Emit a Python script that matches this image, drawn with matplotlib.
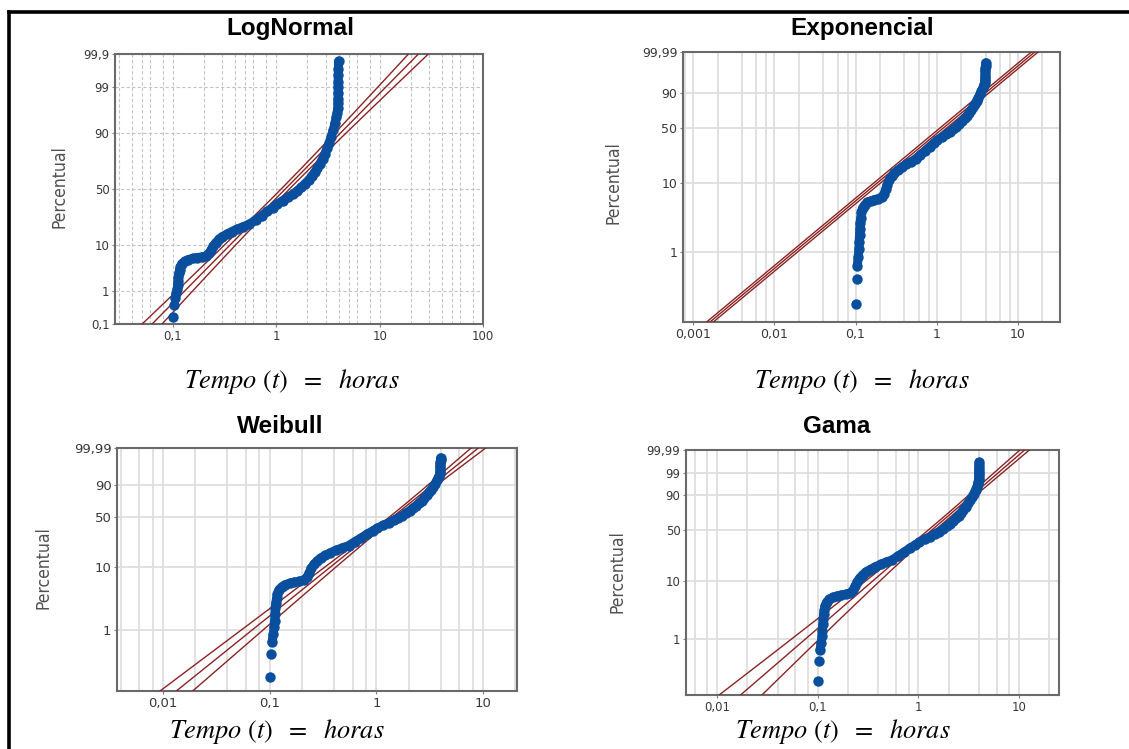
import math
import numpy as np
import matplotlib
matplotlib.use("Agg")
import matplotlib.pyplot as plt
from matplotlib.lines import Line2D

W, H = 1129, 749

# Observed failure times (hours) and their cumulative percentiles
tempo_h = [0.100, 0.103, 0.105, 0.108, 0.110, 0.111, 0.112, 0.113, 0.114, 0.116,
           0.118, 0.122, 0.130, 0.140, 0.155, 0.170, 0.190, 0.210, 0.225, 0.235,
           0.245, 0.260, 0.280, 0.300, 0.330, 0.370, 0.420, 0.480, 0.550, 0.630,
           0.720, 0.820, 0.920, 1.02, 1.15, 1.30, 1.45, 1.60, 1.75, 1.90,
           2.05, 2.20, 2.35, 2.50, 2.65, 2.80, 2.95, 3.10, 3.25, 3.40,
           3.55, 3.70, 3.80, 3.88, 3.93, 3.95, 3.96, 3.96, 3.97, 3.97,
           3.98, 3.99, 4.00]
percentual = [0.17, 0.40, 0.62, 0.85, 1.1, 1.4, 1.8, 2.2, 2.7, 3.2,
              3.8, 4.4, 4.9, 5.3, 5.6, 5.8, 6.0, 6.3, 7.0, 8.2,
              9.5, 11.0, 12.5, 13.8, 15.0, 16.5, 18.0, 19.5, 21.0, 24.0,
              27.0, 30.5, 33.5, 36.5, 39.5, 42.5, 45.5, 48.5, 51.5, 55.0,
              58.0, 61.5, 65.0, 68.5, 72.0, 75.5, 79.0, 82.5, 85.5, 88.5,
              91.0, 93.5, 95.0, 96.0, 96.8, 97.5, 98.0, 98.6, 99.0, 99.3,
              99.55, 99.7, 99.83]
N_AMOSTRA = 420      # sample size used for the confidence bands
N_ISOLADOS = 3       # lowest observations drawn as separate dots

# Fitted parameters of each distribution
LOGN_MU, LOGN_SIGMA = 0.20, 0.96
EXP_THETA = 1.75
WEIB_BETA, WEIB_ETA = 1.40, 1.85
GAMA_K, GAMA_THETA = 1.6, 1.05

titulos = ["LogNormal", "Exponencial", "Weibull", "Gama"]

y_ticks_ln = [0.1, 1, 10, 50, 90, 99, 99.9]
y_labels_ln = ["0,1", "1", "10", "50", "90", "99", "99,9"]
y_ticks_we = [1, 10, 50, 90, 99.99]
y_labels_we = ["1", "10", "50", "90", "99,99"]
y_ticks_ga = [1, 10, 50, 90, 99, 99.99]
y_labels_ga = ["1", "10", "50", "90", "99", "99,99"]

x_ticks_ln = [0.1, 1, 10, 100]
x_labels_ln = ["0,1", "1", "10", "100"]
x_ticks_ex = [0.001, 0.01, 0.1, 1, 10]
x_labels_ex = ["0,001", "0,01", "0,1", "1", "10"]
x_ticks_wg = [0.01, 0.1, 1, 10]
x_labels_wg = ["0,01", "0,1", "1", "10"]

AZUL = "#0a4f9e"
VERMELHO = "#8b2323"
Z95 = 1.96


# ---------- probability-scale helpers ----------
_erf = np.vectorize(math.erf, otypes=[float])


def norm_cdf(z):
    return 0.5 * (1.0 + _erf(np.asarray(z, float) / math.sqrt(2.0)))


def bisect(f, target, lo, hi, iters=64):
    target = np.asarray(target, float)
    a = np.full(target.shape, lo, float)
    b = np.full(target.shape, hi, float)
    for _ in range(iters):
        m = 0.5 * (a + b)
        below = f(m) < target
        a = np.where(below, m, a)
        b = np.where(below, b, m)
    return 0.5 * (a + b)


def norm_ppf(q):
    return bisect(norm_cdf, q, -12.0, 12.0)


def gamma_cdf(x, k, terms=110):
    x = np.clip(np.asarray(x, float), 1e-300, 40.0)
    term = np.ones_like(x)
    s = np.ones_like(x)
    for n in range(1, terms):
        term = term * x / (k + n)
        s = s + term
    return np.minimum(np.exp(k * np.log(x) - x - math.lgamma(k + 1.0)) * s, 1.0)


def gamma_lnppf(q, k):
    return bisect(lambda u: gamma_cdf(np.exp(u), k), q, -40.0, math.log(40.0))


def _q(p):
    return np.clip(np.asarray(p, float) / 100.0, 1e-12, 1 - 1e-12)


escala_normal = (lambda p: norm_ppf(_q(p)),
                 lambda z: 100.0 * norm_cdf(z))
escala_weibull = (lambda p: np.log(-np.log1p(-_q(p))),
                  lambda w: 100.0 * (-np.expm1(-np.exp(np.asarray(w, float)))))
escala_gama = (lambda p: gamma_lnppf(_q(p), GAMA_K),
               lambda y: 100.0 * gamma_cdf(np.exp(np.asarray(y, float)), GAMA_K))


# ---------- fitted lines with 95% bounds (ln t as a function of the scale variable) ----------
def faixa_lognormal(z):
    c = LOGN_MU + z * LOGN_SIGMA
    sd = np.sqrt(LOGN_SIGMA ** 2 / N_AMOSTRA * (1 + z ** 2 / 2))
    return c, sd


def faixa_exponencial(w):
    c = math.log(EXP_THETA) + w
    sd = np.full_like(w, 1.0 / math.sqrt(N_AMOSTRA))
    return c, sd


def faixa_weibull(w):
    b = 1.0 / WEIB_BETA
    c = math.log(WEIB_ETA) + w * b
    var = b ** 2 / N_AMOSTRA * (1.1087 + 0.6079 * w ** 2 + 2 * 0.2570 * w)
    return c, np.sqrt(var)


def faixa_gama(y):
    q = escala_gama[1](y) / 100.0
    h = 1e-3
    dk = (gamma_lnppf(q, GAMA_K + h) - gamma_lnppf(q, GAMA_K - h)) / (2 * h)
    hh = 1e-4
    trig = (math.lgamma(GAMA_K + hh) - 2 * math.lgamma(GAMA_K) + math.lgamma(GAMA_K - hh)) / hh ** 2
    info = np.array([[trig, 1.0], [1.0, GAMA_K]]) * N_AMOSTRA
    cov = np.linalg.inv(info)
    var = dk ** 2 * cov[0, 0] + 2 * dk * cov[0, 1] + cov[1, 1]
    c = math.log(GAMA_THETA) + y
    return c, np.sqrt(var)


paineis = [
    dict(titulo=titulos[0], rect=(115, 54, 483, 324), escala=escala_normal, faixa=faixa_lognormal,
         xlim=(0.0275, 100), ylim=(0.1, 99.9), yt=y_ticks_ln, yl=y_labels_ln,
         xt=x_ticks_ln, xl=x_labels_ln, menores=[2, 3, 4, 5, 6, 8], dec=range(-2, 2),
         tracejado=True, tam=8.5, tit=(290, 28), xlab=(292, 381), ylab=(60, 187)),
    dict(titulo=titulos[1], rect=(683, 52, 1060, 322), escala=escala_weibull, faixa=faixa_exponencial,
         xlim=(0.00075, 33), ylim=(0.092, 99.99), yt=y_ticks_we, yl=y_labels_we,
         xt=x_ticks_ex, xl=x_labels_ex, menores=[2, 4, 6, 8], dec=range(-4, 2),
         tracejado=False, tam=9, tit=(862, 28), xlab=(862, 381), ylab=(613, 183)),
    dict(titulo=titulos[2], rect=(117, 448, 517, 691), escala=escala_weibull, faixa=faixa_weibull,
         xlim=(0.0037, 20.8), ylim=(0.1, 99.99), yt=y_ticks_we, yl=y_labels_we,
         xt=x_ticks_wg, xl=x_labels_wg, menores=[2, 4, 6, 8], dec=range(-3, 2),
         tracejado=False, tam=9.5, tit=(280, 426), xlab=(277, 732), ylab=(43, 568)),
    dict(titulo=titulos[3], rect=(686, 450, 1059, 695), escala=escala_gama, faixa=faixa_gama,
         xlim=(0.0049, 24.9), ylim=(0.095, 99.99), yt=y_ticks_ga, yl=y_labels_ga,
         xt=x_ticks_wg, xl=x_labels_wg, menores=[2, 4, 6, 8], dec=range(-3, 2),
         tracejado=False, tam=8.5, tit=(837, 426), xlab=(843, 732), ylab=(618, 572)),
]

plt.rcParams["mathtext.fontset"] = "stix"
fig = plt.figure(figsize=(W / 100, H / 100), dpi=100)
fig.patch.set_facecolor("white")


def fx(x):
    return x / W


def fy(y):
    return 1 - y / H


for pn in paineis:
    x0, y0, x1, y1 = pn["rect"]
    ax = fig.add_axes([fx(x0), fy(y1), (x1 - x0) / W, (y1 - y0) / H])
    fwd, inv = pn["escala"]
    ax.set_xscale("log")
    ax.set_yscale("function", functions=(fwd, inv))
    ax.set_xlim(*pn["xlim"])
    ax.set_ylim(*pn["ylim"])

    ax.set_xticks(pn["xt"])
    ax.set_xticklabels(pn["xl"])
    menores = [m * 10.0 ** d for d in pn["dec"] for m in pn["menores"]]
    menores = [v for v in menores if pn["xlim"][0] < v < pn["xlim"][1]]
    ax.set_xticks(menores, minor=True)
    ax.set_xticklabels([], minor=True)
    ax.set_yticks(pn["yt"])
    ax.set_yticklabels(pn["yl"])
    ax.set_yticks([], minor=True)

    if pn["tracejado"]:
        estilo = dict(color="#c4c4c4", linestyle=(0, (3, 2)), linewidth=0.8)
    else:
        estilo = dict(color="#dedede", linestyle="-", linewidth=1.3)
    ax.grid(True, which="both", axis="x", **estilo)
    ax.grid(True, which="major", axis="y", **estilo)
    ax.set_axisbelow(True)

    ax.tick_params(axis="both", which="major", length=2, width=0.8, color="#808080",
                   labelsize=pn["tam"], labelcolor="#383838", pad=2)
    ax.tick_params(axis="both", which="minor", length=0)
    for s in ax.spines.values():
        s.set_color("#6a6a6a")
        s.set_linewidth(1.5)

    # fitted distribution line and its confidence bounds
    lo_s, hi_s = fwd(np.array(pn["ylim"], float))
    s = np.linspace(lo_s - 0.3, hi_s + 0.3, 160)
    p_curva = inv(s)
    centro, sd = pn["faixa"](s)
    for desloc in (-Z95, 0.0, Z95):
        ax.plot(np.exp(centro + desloc * sd), p_curva, color=VERMELHO, lw=1.0, zorder=3)

    # observed data
    ax.plot(tempo_h[N_ISOLADOS - 1:], percentual[N_ISOLADOS - 1:], "-", color=AZUL,
            lw=6.5, solid_capstyle="round", solid_joinstyle="round", zorder=4)
    ax.plot(tempo_h, percentual, "o", color=AZUL, ms=7.5, mec="none", zorder=5)

    fig.text(fx(pn["tit"][0]), fy(pn["tit"][1]), pn["titulo"], ha="center", va="center",
             fontsize=17.5, fontweight="bold", family="Liberation Sans")
    fig.text(fx(pn["xlab"][0]), fy(pn["xlab"][1]), r"$Tempo\ (t)\ \ =\ \ horas$",
             ha="center", va="center", fontsize=19)
    fig.text(fx(pn["ylab"][0]), fy(pn["ylab"][1]), "Percentual", rotation=90,
             ha="center", va="center", fontsize=12.5, color="#505050",
             family="DejaVu Sans", fontstretch="condensed")

# outer frame of the figure
fig.add_artist(Line2D([fx(8.5), fx(8.5)], [0, fy(12)], transform=fig.transFigure,
                      color="black", lw=2.6, solid_capstyle="projecting"))
fig.add_artist(Line2D([fx(8.5), 1.0], [fy(12), fy(12)], transform=fig.transFigure,
                      color="black", lw=2.6, solid_capstyle="projecting"))

fig.savefig("out.png", dpi=100, facecolor="white")
